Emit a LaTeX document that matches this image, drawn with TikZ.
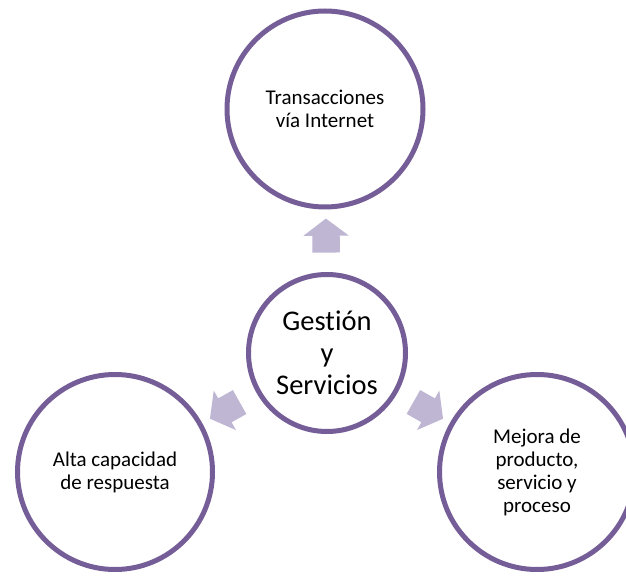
\documentclass[tikz,border=0pt]{standalone}
\usepackage{fontspec}
\setmainfont{Carlito}[Ligatures=NoCommon]
\usetikzlibrary{shapes.arrows,positioning}

\definecolor{ringcolor}{RGB}{117,94,152}
\definecolor{arrowfill}{RGB}{191,182,212}

\begin{document}
\begin{tikzpicture}[
        x=1pt, y=1pt,
        every node/.style={align=center},
        ring/.style={circle, draw=ringcolor, line width=5pt, fill=white, inner sep=0pt,
            font=\fontsize{21}{23}\selectfont},
        hub/.style={ring, minimum size=157pt, font=\fontsize{28.5}{32}\selectfont},
        pointer/.style={single arrow, fill=arrowfill, draw=none, inner xsep=0pt, inner ysep=13.5pt,
            minimum height=34pt, single arrow head extend=9pt,
            single arrow tip angle=106, sloped, allow upside down, midway}
    ]
    \useasboundingbox (0,0) rectangle (626,576);

    % Nodes
    \node[hub] (hub) at (327,223) {Gesti\'on\\y\\Servicios};
    \node[ring, minimum size=196pt] (web) at (325,467) {Transacciones\\v\'ia Internet};
    \node[ring, minimum size=195pt] (speed) at (115,104) {Alta capacidad\\de respuesta};
    \node[ring, minimum size=195pt] (improve) at (537,104) {Mejora de\\producto,\\servicio y\\proceso};

    % Arrows
    \path (hub) -- (web) node[pointer] (toweb) {};
    \path (hub) -- (speed) node[pointer] (tospeed) {};
    \path (hub) -- (improve) node[pointer] (toimprove) {};

\end{tikzpicture}
\end{document}
